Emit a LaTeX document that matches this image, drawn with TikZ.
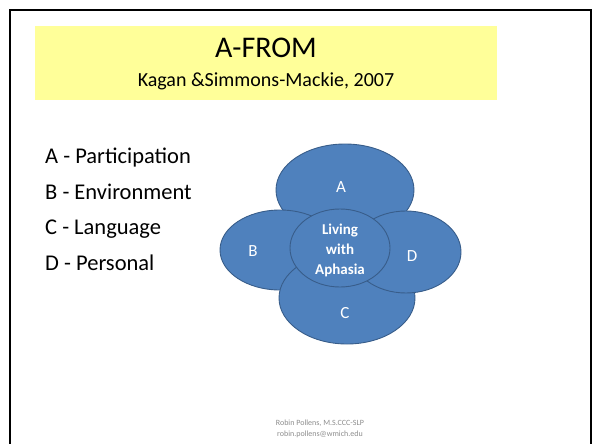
\documentclass[tikz,border=0pt]{standalone}
\usepackage{fontspec}
\setmainfont{Carlito}
\usetikzlibrary{shapes.geometric}
\definecolor{petal}{HTML}{4F81BD}
\definecolor{petaledge}{HTML}{385D8A}
\definecolor{banner}{HTML}{FFFF99}
\definecolor{footgray}{HTML}{8C8C8C}
\begin{document}
\begin{tikzpicture}[x=1pt,y=-1pt,
  petal/.style={ellipse, draw=petaledge, fill=petal, line width=0.9pt, inner sep=0pt},
  petallabel/.style={text=white, font=\fontsize{17}{20}\selectfont, inner sep=0pt},
  listitem/.style={anchor=base west, font=\fontsize{22.5}{26}\selectfont, inner sep=0pt},
  foot/.style={text=footgray, font=\fontsize{8}{9.5}\selectfont, inner sep=0pt}]
\useasboundingbox (0,0) rectangle (600,444);
\clip (0,0) rectangle (600,444);
% slide frame
\draw[line width=2.4pt] (10,470) |- (591,10) -- (591,470);
% title banner
\fill[banner] (35,26) rectangle (497,100);
\node[font=\fontsize{30}{34}\selectfont, inner sep=0pt] (title) at (266,47.5) {A-FROM};
\node[font=\fontsize{20}{24}\selectfont, inner sep=0pt] (cite) at (266,81.5) {Kagan \&Simmons-Mackie, 2007};
% legend, evenly spaced baselines
\node[listitem] (la) at (45,163.5) {A - Participation};
\node[listitem] (lb) at (45,199) {B - Environment};
\node[listitem] (lc) at (45,234.5) {C - Language};
\node[listitem] (ld) at (45,270) {D - Personal};
% four overlapping domains around the core
\node[petal, minimum width=138pt, minimum height=92pt] (pa) at (345,190) {};
\node[petal, minimum width=120pt, minimum height=80pt] (pb) at (280,250) {};
\node[petal, minimum width=136pt, minimum height=92pt] (pc) at (347,298) {};
\node[petal, minimum width=110pt, minimum height=82pt] (pd) at (406,252) {};
\node[petal, minimum width=100pt, minimum height=78pt] (core) at (340,248) {};
\node[petallabel] (ta) at (341,187) {A};
\node[petallabel] (tb) at (253,251) {B};
\node[petallabel] (tc) at (345,313) {C};
\node[petallabel] (td) at (412,256) {D};
\node[text=white, font=\bfseries\fontsize{15}{20}\selectfont, align=center, inner sep=0pt] (tcore) at (340,250) {Living\\with\\Aphasia};
% footer
\node[foot] (f1) at (320,423) {Robin Pollens, M.S.CCC-SLP};
\node[foot] (f2) at (320,434) {robin.pollens@wmich.edu};
\end{tikzpicture}
\end{document}
